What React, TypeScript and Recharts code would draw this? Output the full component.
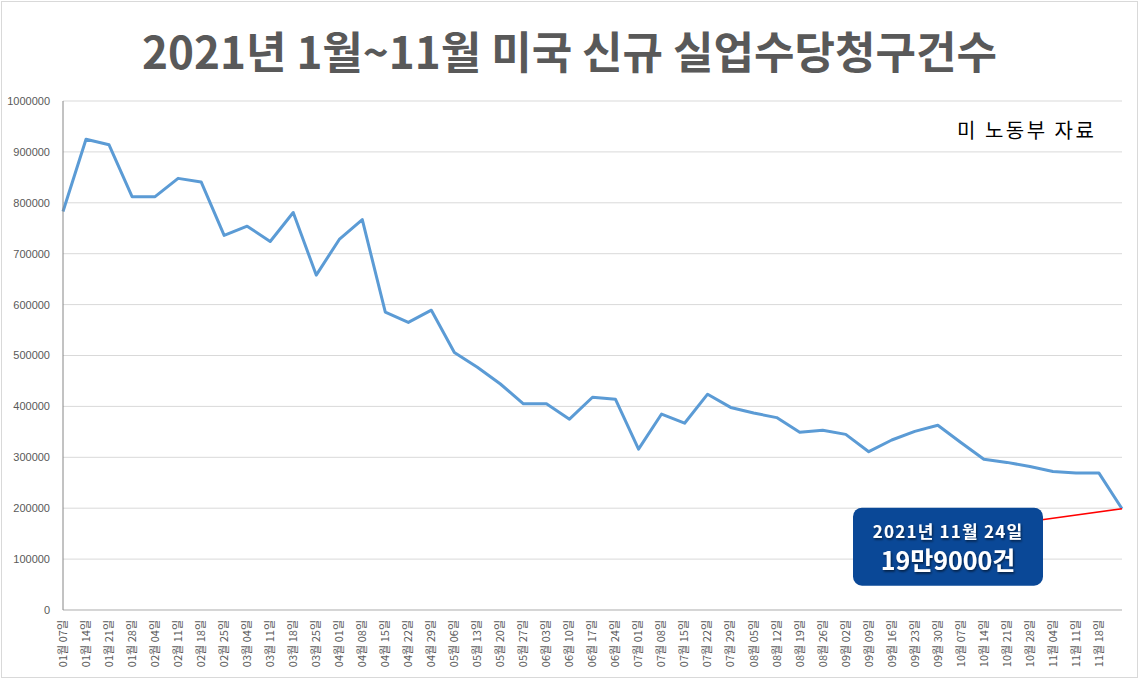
import { LineChart, Line, XAxis, YAxis, CartesianGrid } from "recharts";

// weekly initial jobless claims, 2021
const dates = [
  "01월 07일", "01월 14일", "01월 21일", "01월 28일",
  "02월 04일", "02월 11일", "02월 18일", "02월 25일",
  "03월 04일", "03월 11일", "03월 18일", "03월 25일",
  "04월 01일", "04월 08일", "04월 15일", "04월 22일", "04월 29일",
  "05월 06일", "05월 13일", "05월 20일", "05월 27일",
  "06월 03일", "06월 10일", "06월 17일", "06월 24일",
  "07월 01일", "07월 08일", "07월 15일", "07월 22일", "07월 29일",
  "08월 05일", "08월 12일", "08월 19일", "08월 26일",
  "09월 02일", "09월 09일", "09월 16일", "09월 23일", "09월 30일",
  "10월 07일", "10월 14일", "10월 21일", "10월 28일",
  "11월 04일", "11월 11일", "11월 18일", "11월 24일",
];

const claims = [
  783000, 925000, 914000, 812000,
  812000, 848000, 841000, 736000,
  754000, 724000, 781000, 658000,
  728000, 767000, 585000, 565000, 589000,
  506000, 477000, 444000, 405000,
  405000, 375000, 418000, 414000,
  316000, 385000, 367000, 424000, 398000,
  387000, 378000, 349000, 353000,
  345000, 311000, 334000, 351000, 363000,
  329000, 296000, 290000, 282000,
  272000, 269000, 269000, 199000,
];

const yTicks = [0, 100000, 200000, 300000, 400000, 500000, 600000, 700000, 800000, 900000, 1000000];

const title = "2021년 1월~11월 미국 신규 실업수당청구건수";
const source = "미 노동부 자료";
const noteDate = "2021년 11월 24일";
const noteValue = "19만9000건";

const data = dates.map((d, i) => ({ date: d, claims: claims[i] }));

const gray = "#595959";
const kr = "'Noto Sans CJK KR', 'Noto Sans', sans-serif";

function DateTick(props: any) {
  const { x, y, payload } = props;
  // last week has no label in the original
  if (payload.index === dates.length - 1) return <g />;
  return (
    <g transform={`translate(${x},${y + 2}) rotate(-90)`}>
      <text x={0} y={0} dy="0.35em" textAnchor="end" fill={gray} fontSize={11} fontFamily={kr}>
        {payload.value}
      </text>
    </g>
  );
}

function LastDot(props: any) {
  const { cx, cy, index } = props;
  if (index !== claims.length - 1) return <g key={`d${index}`} />;
  const bx = cx - 269;
  const by = cy - 1;
  return (
    <g key={`d${index}`}>
      <defs>
        <filter id="txtShadow" x="-10%" y="-30%" width="120%" height="160%">
          <feDropShadow dx="1" dy="1.5" stdDeviation="0.8" floodColor="#000" floodOpacity="0.6" />
        </filter>
      </defs>
      <line x1={cx - 80} y1={cy + 11} x2={cx} y2={cy} stroke="#ff0000" strokeWidth={1.6} />
      <rect x={bx} y={by} width={190} height={78} rx={9} fill="#0a4897" />
      <text x={bx + 95} y={by + 24} dy="0.35em" textAnchor="middle" fill="#fff" fontSize={17}
        fontFamily={kr} fontWeight={700} letterSpacing={1.2} filter="url(#txtShadow)">
        {noteDate}
      </text>
      <text x={bx + 95} y={by + 54} dy="0.35em" textAnchor="middle" fill="#fff" fontSize={25}
        fontFamily={kr} fontWeight={700} filter="url(#txtShadow)">
        {noteValue}
      </text>
    </g>
  );
}

export default function App() {
  return (
    <div style={{ position: "absolute", left: 0, top: 0, width: 1139, height: 679, background: "#fff" }}>
      <LineChart width={1139} height={679} data={data} margin={{ top: 101, right: 17, left: 0, bottom: 0 }}>
        <CartesianGrid vertical={false} stroke="#d9d9d9" />
        <XAxis
          dataKey="date"
          scale="point"
          padding={{ left: 0, right: 0 }}
          interval={0}
          height={69}
          tickLine={false}
          axisLine={{ stroke: "#bfbfbf" }}
          tick={<DateTick />}
        />
        <YAxis
          width={63}
          domain={[0, 1000000]}
          ticks={yTicks}
          interval={0}
          tickLine={false}
          tickSize={0}
          tickMargin={13}
          axisLine={{ stroke: "#868686" }}
          tick={{ fill: gray, fontSize: 11, fontFamily: "'Liberation Sans', Arial, sans-serif" }}
        />
        <Line
          type="linear"
          dataKey="claims"
          stroke="#5b9bd5"
          strokeWidth={3}
          strokeLinejoin="round"
          dot={(p: any) => <LastDot {...p} />}
          activeDot={false}
          isAnimationActive={false}
        />
      </LineChart>
      <div
        style={{
          position: "absolute", left: 0, top: 20, width: 1139, textAlign: "center",
          fontFamily: kr, fontWeight: 700, fontSize: 44, lineHeight: "60px", color: gray,
        }}
      >
        {title}
      </div>
      <div
        style={{
          position: "absolute", left: 957, top: 116, fontFamily: kr, fontSize: 20,
          lineHeight: "28px", color: "#000", letterSpacing: 2.5, whiteSpace: "nowrap",
        }}
      >
        {source}
      </div>
      <div
        style={{
          position: "absolute", left: 1, top: 1, width: 1135, height: 675,
          border: "1px solid #d9d9d9", pointerEvents: "none",
        }}
      />
    </div>
  );
}
